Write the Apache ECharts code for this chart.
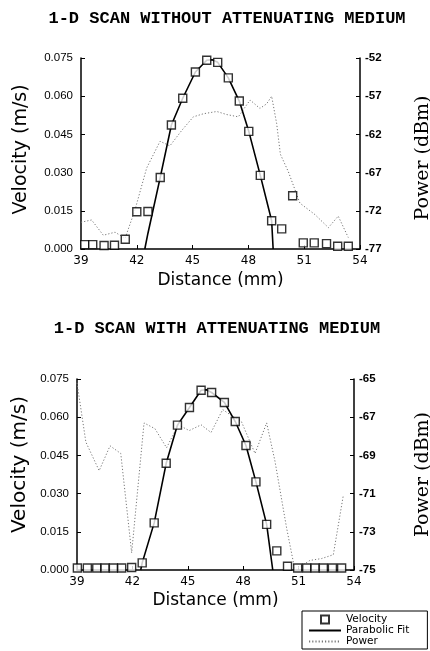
<!DOCTYPE html>
<html>
<head>
<meta charset="utf-8">
<script src="https://cdn.jsdelivr.net/npm/echarts@6/dist/echarts.min.js"></script>
<style>
html,body{margin:0;padding:0;background:#fff;}
#c{width:430px;height:651px;}
</style>
</head>
<body>
<div id="c"></div>
<script>
// ---- data ----
const title1 = '1-D SCAN WITHOUT ATTENUATING MEDIUM';
const title2 = '1-D SCAN WITH ATTENUATING MEDIUM';
const xTicks = [39, 42, 45, 48, 51, 54];
const velTicks = [0, 0.015, 0.030, 0.045, 0.060, 0.075];
const powTicks1 = [-77, -72, -67, -62, -57, -52];
const powTicks2 = [-75, -73, -71, -69, -67, -65];

// Chart 1: without attenuating medium
const velX1 = [39.2,39.63,40.24,40.8,41.38,42.0,42.6,43.26,43.86,44.47,45.15,45.76,46.35,46.92,47.51,48.02,48.64,49.25,49.79,50.38,50.95,51.54,52.2,52.8,53.37];
const velY1 = [0.0017,0.0017,0.0014,0.0015,0.0038,0.0146,0.0147,0.0281,0.0487,0.0592,0.0695,0.0741,0.0733,0.0672,0.0581,0.0462,0.0289,0.0111,0.0079,0.0209,0.0024,0.0024,0.0021,0.0011,0.0011];
const fitX1 = [42.43,42.6,43.26,43.86,44.47,45.15,45.76,46.05,46.35,46.92,47.51,48.02,48.64,49.25,49.33];
const fitY1 = [0,0.0062,0.0281,0.0487,0.0592,0.0695,0.0741,0.0743,0.0733,0.0672,0.0581,0.0462,0.0289,0.0111,0];
const powX1 = [39.0,39.57,40.2,40.83,41.37,41.9,42.53,43.25,43.78,44.41,45.04,45.58,46.3,46.83,47.46,48.09,48.62,48.98,49.25,49.52,49.72,50.15,50.77,51.58,52.3,52.83,53.37];
const powY1 = [-73.5,-73.2,-75.2,-74.8,-75.6,-71.9,-66.4,-62.9,-63.5,-61.5,-59.7,-59.3,-59.0,-59.4,-59.7,-57.5,-58.6,-58.0,-57.0,-60.6,-64.6,-66.9,-71.0,-72.5,-74.2,-72.7,-75.5];

// Chart 2: with attenuating medium
const velX2 = [39.02,39.56,40.07,40.52,40.97,41.42,41.96,42.53,43.18,43.83,44.44,45.09,45.72,46.29,46.98,47.57,48.15,48.69,49.27,49.82,50.4,50.95,51.44,51.89,52.34,52.83,53.33];
const velY2 = [0.0008,0.0008,0.0008,0.0008,0.0008,0.0008,0.001,0.0028,0.0185,0.0419,0.0569,0.0638,0.0706,0.0697,0.0658,0.0583,0.0489,0.0346,0.0179,0.0075,0.0015,0.0008,0.0008,0.0008,0.0008,0.0008,0.0008];
const fitX2 = [42.45,42.53,43.18,43.83,44.44,45.09,45.72,46.0,46.29,46.98,47.57,48.15,48.69,49.27,49.6];
const fitY2 = [0,0.0028,0.0185,0.0419,0.0569,0.0638,0.0706,0.0708,0.0697,0.0658,0.0583,0.0489,0.0346,0.0179,0];
const powX2 = [39.0,39.48,40.2,40.79,41.37,41.96,42.63,43.22,43.85,44.48,45.08,45.72,46.26,46.89,47.34,47.89,48.64,49.27,49.72,50.35,50.8,51.61,52.25,52.88,53.42];
const powY2 = [-65.2,-68.3,-69.8,-68.5,-68.9,-74.1,-67.3,-67.6,-68.6,-67.4,-67.7,-67.4,-67.8,-66.6,-66.9,-67.2,-68.9,-67.3,-69.3,-72.8,-75.0,-74.5,-74.4,-74.2,-71.1];

const seriesNames = ['Velocity', 'Parabolic Fit', 'Power'];

// ---- build ----
const zip = (xs, ys) => xs.map((x, i) => [x, ys[i]]);
const sans = 'DejaVu Sans';
const axisLineStyle = { show: true, lineStyle: { color: '#000', width: 1.5 } };

function xAxisFor(gi, nameGap) {
  return {
    type: 'value', gridIndex: gi, min: xTicks[0], max: xTicks[xTicks.length - 1],
    axisLine: axisLineStyle,
    axisTick: { show: true, inside: true, length: 4, lineStyle: { color: '#000' }, customValues: xTicks },
    axisLabel: { customValues: xTicks, color: '#000', fontFamily: sans, fontSize: 12, margin: 6 },
    splitLine: { show: false },
    name: 'Distance (mm)', nameLocation: 'middle', nameGap: nameGap,
    nameTextStyle: { color: '#000', fontFamily: sans, fontSize: 17 }
  };
}
function velAxisFor(gi, nameGap, fs, shift) {
  return {
    type: 'value', gridIndex: gi, position: 'left',
    min: velTicks[0], max: velTicks[velTicks.length - 1],
    axisLine: axisLineStyle,
    axisTick: { show: true, inside: true, length: 4, lineStyle: { color: '#000' }, customValues: velTicks },
    axisLabel: { customValues: velTicks, color: '#000', fontFamily: 'Liberation Sans', fontSize: 11.5, margin: 8,
      formatter: v => v.toFixed(3) },
    splitLine: { show: false },
    name: 'Velocity (m/s)', nameLocation: 'middle', nameGap: nameGap, nameRotate: 90,
    nameTextStyle: { color: '#000', fontFamily: sans, fontSize: fs, padding: [0, 0, 0, shift] }
  };
}
function powAxisFor(gi, ticks, nameGap, fs, shiftDown) {
  return {
    type: 'value', gridIndex: gi, position: 'right',
    min: ticks[0], max: ticks[ticks.length - 1],
    axisLine: axisLineStyle,
    axisTick: { show: true, inside: true, length: 4, lineStyle: { color: '#000' }, customValues: ticks },
    axisLabel: { customValues: ticks, color: '#000', fontFamily: 'Liberation Sans', fontWeight: 'bold', fontSize: 11.5, margin: 5 },
    splitLine: { show: false },
    name: 'Power (dBm)', nameLocation: 'middle', nameGap: nameGap, nameRotate: 90,
    nameTextStyle: { color: '#000', fontFamily: 'DejaVu Serif', fontSize: fs, padding: [0, shiftDown, 0, 0] }
  };
}
function seriesFor(gi, vx, vy, fx, fy, px, py) {
  return [
    { name: seriesNames[2], type: 'line', xAxisIndex: gi, yAxisIndex: gi * 2 + 1, data: zip(px, py),
      symbol: 'none', showSymbol: false, z: 2,
      lineStyle: { color: '#777', width: 1, type: [1.2, 2] }, itemStyle: { color: '#777' } },
    { name: seriesNames[1], type: 'line', xAxisIndex: gi, yAxisIndex: gi * 2, data: zip(fx, fy),
      symbol: 'none', showSymbol: false, z: 3,
      lineStyle: { color: '#000', width: 1.6 }, itemStyle: { color: '#000' } },
    { name: seriesNames[0], type: 'scatter', xAxisIndex: gi, yAxisIndex: gi * 2, data: zip(vx, vy),
      symbol: 'rect', symbolSize: 8, z: 4,
      itemStyle: { color: '#fff', borderColor: '#000', borderWidth: 1.4 } }
  ];
}

const chart = echarts.init(document.getElementById('c'), null, { renderer: 'canvas' });
chart.setOption({
  animation: false,
  backgroundColor: '#fff',
  title: [
    { text: title1, left: 222, top: 5, textAlign: 'center',
      textStyle: { fontFamily: 'Liberation Mono', fontWeight: 'bold', fontSize: 17, color: '#000' } },
    { text: title2, left: 212, top: 315, textAlign: 'center',
      textStyle: { fontFamily: 'Liberation Mono', fontWeight: 'bold', fontSize: 17, color: '#000' } }
  ],
  grid: [
    { left: 81, top: 58, width: 279, height: 191, containLabel: false, outerBoundsMode: 'none' },
    { left: 77, top: 379, width: 277, height: 191, containLabel: false, outerBoundsMode: 'none' }
  ],
  xAxis: [xAxisFor(0, 23), xAxisFor(1, 22)],
  yAxis: [velAxisFor(0, 50, 19, 8), powAxisFor(0, powTicks1, 54, 19, 9), velAxisFor(1, 47, 20, 20), powAxisFor(1, powTicks2, 60, 19, 0)],
  legend: {
    data: [
      { name: seriesNames[0], icon: 'path://M0,0L10,0L10,10L0,10Z' },
      { name: seriesNames[1], itemStyle: { opacity: 0 } },
      { name: seriesNames[2], itemStyle: { opacity: 0 } }
    ],
    orient: 'vertical', left: 302, top: 611, height: 60,
    symbolKeepAspect: true,
    padding: [3, 18, 2, 6], itemGap: 0, itemWidth: 32, itemHeight: 8,
    borderColor: '#000', borderWidth: 1,
    textStyle: { color: '#000', fontFamily: sans, fontSize: 10.5, lineHeight: 11 }
  },
  series: [].concat(
    seriesFor(0, velX1, velY1, fitX1, fitY1, powX1, powY1),
    seriesFor(1, velX2, velY2, fitX2, fitY2, powX2, powY2)
  )
});
</script>
</body>
</html>
